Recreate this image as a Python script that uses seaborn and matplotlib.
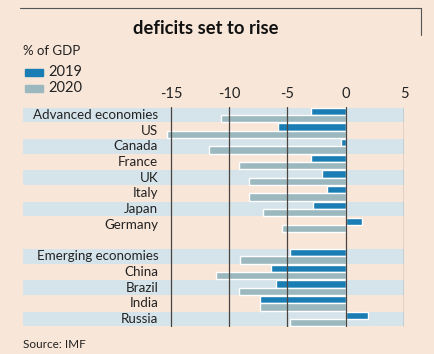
import numpy as np
import pandas as pd
import matplotlib.pyplot as plt
from matplotlib.lines import Line2D
import seaborn as sns

# data (% of GDP)
countries = ["Advanced economies", "US", "Canada", "France", "UK", "Italy", "Japan",
             "Germany", "", "Emerging economies", "China", "Brazil", "India", "Russia"]
y2019 = [-3.0, -5.8, -0.4, -3.0, -2.0, -1.6, -2.8, 1.4, np.nan, -4.8, -6.4, -6.0, -7.4, 1.9]
y2020 = [-10.7, -15.3, -11.7, -9.2, -8.3, -8.3, -7.1, -5.5, np.nan, -9.1, -11.1, -9.2, -7.4, -4.8]
ticks = [-15, -10, -5, 0, 5]

bg = "#f8e6d8"
band = "#d5e3ea"
c19 = "#1a7db3"
c20 = "#9bb8bf"

df = pd.DataFrame({
    "country": countries * 2,
    "year": ["2019"] * len(countries) + ["2020"] * len(countries),
    "value": y2019 + y2020,
})

sns.set_style("white")
plt.rcParams["font.family"] = ["Lato", "DejaVu Sans"]

fig = plt.figure(figsize=(4.34, 3.54), dpi=100, facecolor=bg)
W, H = 434, 354
xmin, xmax = -27.7, 5.0
ax = fig.add_axes([23 / W, 1 - 327 / H, (404 - 23) / W, (327 - 107) / H])
ax.set_facecolor(bg)

# shaded bands on alternate rows
for i, name in enumerate(countries):
    if name in ["Advanced economies", "Canada", "UK", "Japan",
                "Emerging economies", "Brazil", "Russia"]:
        ax.axhspan(i - 0.46, i + 0.46, color=band, lw=0, zorder=0)

sns.barplot(data=df, y="country", x="value", hue="year", order=countries,
            palette=[c19, c20], width=0.92, orient="h", ax=ax,
            saturation=1, legend=False, zorder=2)

for t in ticks:
    ax.axvline(t, color="#4a4440", lw=0.9, zorder=3)

ax.set_xlim(xmin, xmax)
ax.set_ylim(len(countries) - 0.5, -0.5)
ax.set_xticks(ticks)
ax.set_xticklabels([str(t) for t in ticks], fontsize=10.5, color="#222222")
ax.xaxis.tick_top()
ax.tick_params(axis="x", length=0, pad=4)
ax.set_yticks([])
ax.set_xlabel("")
ax.set_ylabel("")
for s in ax.spines.values():
    s.set_visible(False)

for i, name in enumerate(countries):
    ax.text(-16.1, i, name, ha="right", va="center", fontsize=9.6, color="#222222")

# frame line at top
fig.add_artist(Line2D([20 / W, 421 / W], [1 - 8 / H, 1 - 8 / H], color="#555555", lw=0.8))
fig.add_artist(Line2D([421 / W, 421 / W], [1 - 8 / H, 1 - 35 / H], color="#555555", lw=0.8))

fig.text(133 / W, 1 - 29 / H, "deficits set to rise", fontsize=13.2, fontweight="bold",
         color="#111111", va="center")
fig.text(23 / W, 1 - 51 / H, "% of GDP", fontsize=9.5, color="#222222", va="center")
fig.patches.append(plt.Rectangle((25 / W, 1 - 76 / H), 18 / W, 7 / H, color=c19,
                                 transform=fig.transFigure, figure=fig))
fig.patches.append(plt.Rectangle((25 / W, 1 - 92 / H), 18 / W, 7 / H, color=c20,
                                 transform=fig.transFigure, figure=fig))
fig.text(48 / W, 1 - 72 / H, "2019", fontsize=10.5, color="#222222", va="center")
fig.text(48 / W, 1 - 88 / H, "2020", fontsize=10.5, color="#222222", va="center")
fig.text(23 / W, 1 - 344 / H, "Source: IMF", fontsize=8.5, color="#222222", va="center")

fig.savefig("out.png", dpi=100, facecolor=bg)
